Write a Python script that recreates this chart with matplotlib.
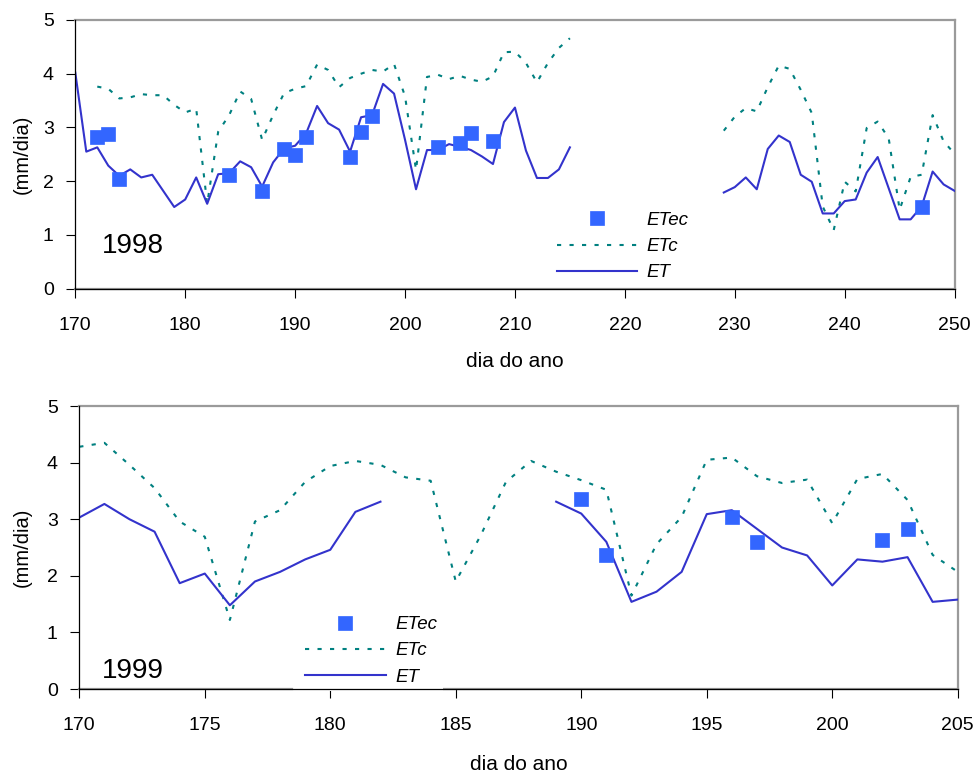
import numpy as np
import matplotlib
matplotlib.use("Agg")
import matplotlib.pyplot as plt

plt.rcParams['font.family'] = ['Liberation Sans', 'DejaVu Sans']

nan = np.nan

# ---- 1998 ----
days_98 = np.arange(170, 251)
et_98 = [4.02, 2.55, 2.63, 2.29, 2.10, 2.22, 2.07, 2.12, 1.82, 1.52,
         1.66, 2.07, 1.58, 2.13, 2.15, 2.37, 2.26, 1.90, 2.35, 2.61,
         2.66, 2.89, 3.40, 3.08, 2.96, 2.55, 3.19, 3.23, 3.81, 3.63,
         2.77, 1.85, 2.58, 2.58, 2.69, 2.64, 2.58, 2.46, 2.32, 3.10,
         3.37, 2.57, 2.06, 2.06, 2.22, 2.63,
         nan, nan, nan, nan, nan, nan, nan, nan, nan, nan, nan, nan, nan,
         1.79, 1.89, 2.07, 1.85, 2.60, 2.85, 2.73, 2.12, 1.99, 1.40,
         1.40, 1.63, 1.66, 2.16, 2.45, 1.87, 1.29, 1.29, 1.53, 2.18,
         1.94, 1.82]
etc_98 = [nan, nan, 3.76, 3.72, 3.54, 3.56, 3.62, 3.60, 3.60, 3.42,
          3.28, 3.35, 1.58, 2.92, 3.23, 3.67, 3.53, 2.77, 3.23, 3.64,
          3.72, 3.77, 4.17, 4.07, 3.75, 3.92, 4.00, 4.07, 4.04, 4.18,
          3.58, 2.21, 3.94, 3.98, 3.90, 3.96, 3.89, 3.85, 3.95, 4.40,
          4.41, 4.20, 3.84, 4.20, 4.48, 4.66,
          nan, nan, nan, nan, nan, nan, nan, nan, nan, nan, nan, nan, nan,
          2.94, 3.20, 3.36, 3.30, 3.75, 4.15, 4.09, 3.70, 3.27, 1.53,
          1.09, 1.99, 1.81, 2.99, 3.11, 2.80, 1.47, 2.08, 2.12, 3.23,
          2.74, 2.51]
etec_days_98 = [172, 173, 174, 184, 187, 189, 190, 191, 195, 196, 197, 203, 205, 206, 208, 247]
etec_98 = [2.82, 2.88, 2.04, 2.12, 1.82, 2.60, 2.48, 2.82, 2.45, 2.92, 3.22, 2.63, 2.71, 2.89, 2.74, 1.52]

# ---- 1999 ----
days_99 = np.arange(170, 206)
et_99 = [3.03, 3.27, 3.00, 2.78, 1.87, 2.04, 1.48, 1.90, 2.07, 2.29,
         2.46, 3.13, 3.31, nan, nan, nan, nan, nan, nan, 3.31,
         3.10, 2.60, 1.54, 1.72, 2.07, 3.09, 3.16, 2.83, 2.50, 2.36,
         1.83, 2.29, 2.25, 2.33, 1.54, 1.58]
etc_99 = [4.28, 4.35, 3.96, 3.55, 2.96, 2.69, 1.22, 2.96, 3.16, 3.66,
          3.94, 4.03, 3.96, 3.74, 3.68, 1.90, 2.72, 3.66, 4.03, 3.84,
          3.69, 3.52, 1.65, 2.56, 3.04, 4.05, 4.09, 3.76, 3.64, 3.70,
          2.93, 3.71, 3.80, 3.34, 2.37, 2.07]
etec_days_99 = [190, 191, 196, 197, 202, 203]
etec_99 = [3.35, 2.37, 3.04, 2.60, 2.64, 2.83]

c_et = '#3333CC'
c_etc = '#008080'
c_etec = '#3366FF'
grey = '#9a9a9a'


def draw(ax, days, et, etc, ed, ev, xlim, xstep, year, ytxt, leg_anchor, gaps, lab_x, lab_y):
    ax.plot(ed, ev, 's', color=c_etec, ms=9.5, mec=c_etec, mew=0.5, label='ETec', zorder=4)
    ax.plot(days, etc, color=c_etc, lw=1.5, ls=(0, (2, 4)), label='ETc', zorder=3)
    ax.plot(days, et, color=c_et, lw=1.5, label='ET', zorder=3)
    ax.set_xlim(*xlim)
    ax.set_ylim(0, 5)
    ax.set_xticks(np.arange(xlim[0], xlim[1] + 1, xstep))
    ax.set_yticks(range(6))
    ax.tick_params(direction='out', length=6.5, width=0.8, labelsize=14)
    ax.tick_params(axis='x', pad=14)
    ax.tick_params(axis='y', pad=9)
    for s in ['top', 'right']:
        ax.spines[s].set_color(grey)
        ax.spines[s].set_linewidth(1.6)
    for s in ['left', 'bottom']:
        ax.spines[s].set_linewidth(0.9)
        ax.spines[s].set_zorder(6)
    # grey plot-area border along the bottom
    for a, b in gaps:
        ax.plot([a, b], [0, 0], transform=ax.transAxes, color=grey, lw=1.6,
                clip_on=False, zorder=2)
    ax.set_xlabel('dia do ano', fontsize=15)
    ax.set_ylabel('(mm/dia)', fontsize=14.5)
    ax.xaxis.set_label_coords(0.5, lab_y)
    ax.yaxis.set_label_coords(lab_x, 0.5)
    ax.text(ytxt[0], ytxt[1], year, fontsize=20, ha='center', va='center')
    leg = ax.legend(loc='center left', bbox_to_anchor=leg_anchor, frameon=True,
                    facecolor='white', edgecolor='none', framealpha=1,
                    prop={'style': 'italic', 'size': 13.5}, handlelength=4.3,
                    handletextpad=0.5, labelspacing=0.48, borderpad=0.3,
                    borderaxespad=0, numpoints=1, fancybox=False)
    leg.set_zorder(5)


fig = plt.figure(figsize=(9.74, 7.74), dpi=100)
ax1 = fig.add_axes([0.0773, 0.627, 0.9028, 0.3472])
ax2 = fig.add_axes([0.0814, 0.1098, 0.9019, 0.3656])

draw(ax1, days_98, et_98, etc_98, etec_days_98, etec_98, (170, 250), 10, '1998',
     (175.25, 0.8), (0.541, 0.157), [(0, 1)], -0.049, -0.236)
draw(ax2, days_99, et_99, etc_99, etec_days_99, etec_99, (170, 205), 5, '1999',
     (172.14, 0.32), (0.2506, 0.135), [(0, 0.242), (0.413, 1)], -0.054, -0.233)

fig.savefig('out.png', dpi=100)
